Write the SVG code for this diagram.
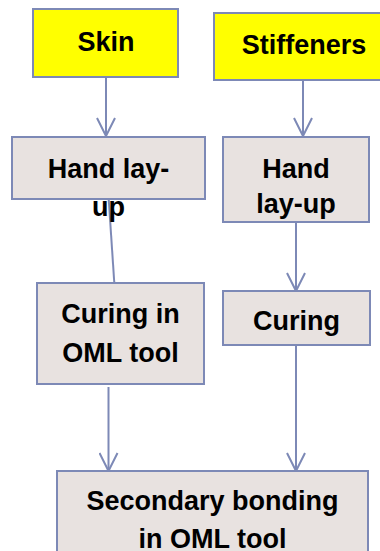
<svg xmlns="http://www.w3.org/2000/svg" width="380" height="551" viewBox="0 0 380 551">
  <style>
    .box { stroke: #7d89b6; stroke-width: 2; }
    .in { fill: #ffff00; }
    .step { fill: #e8e2e0; }
    .lbl { font-family: "Liberation Sans", Arial, sans-serif; font-weight: bold; font-size: 27px; fill: #000; text-anchor: middle; }
    .wire { stroke: #7d89b6; stroke-width: 2; fill: none; }
  </style>
  <defs>
    <marker id="vee" viewBox="0 0 20 20" refX="19" refY="10" markerWidth="20" markerHeight="20" markerUnits="userSpaceOnUse" orient="auto">
      <path d="M1 1 L19 10 L1 19" fill="none" stroke="#7d89b6" stroke-width="2"/>
    </marker>
  </defs>

  <rect width="380" height="551" fill="#ffffff"/>

  <!-- connectors -->
  <g id="connectors">
    <line class="wire" x1="106" y1="77" x2="106" y2="136" marker-end="url(#vee)"/>
    <line class="wire" x1="303" y1="80" x2="303" y2="136" marker-end="url(#vee)"/>
    <line class="wire" x1="108.7" y1="199" x2="114.3" y2="283"/>
    <line class="wire" x1="296" y1="222" x2="296" y2="291" marker-end="url(#vee)"/>
    <line class="wire" x1="108.5" y1="387" x2="108.5" y2="471" marker-end="url(#vee)"/>
    <line class="wire" x1="296" y1="345" x2="296" y2="471" marker-end="url(#vee)"/>
  </g>

  <g id="skin">
    <rect class="box in" x="33" y="9" width="145" height="68"/>
    <text class="lbl" x="106" y="51">Skin</text>
  </g>

  <g id="stiffeners">
    <rect class="box in" x="214" y="13" width="180" height="67"/>
    <text class="lbl" x="304" y="54">Stiffeners</text>
  </g>

  <g id="skin-layup">
    <rect class="box step" x="12" y="137" width="193" height="62"/>
    <text class="lbl" x="108.5" y="178">Hand lay-</text>
    <text class="lbl" x="108.5" y="216">up</text>
  </g>

  <g id="stiffener-layup">
    <rect class="box step" x="223" y="137" width="146" height="85"/>
    <text class="lbl" x="296" y="178">Hand</text>
    <text class="lbl" x="296" y="213">lay-up</text>
  </g>

  <g id="skin-cure">
    <rect class="box step" x="37" y="283" width="167" height="101"/>
    <text class="lbl" x="120.5" y="323">Curing in</text>
    <text class="lbl" x="120.5" y="362">OML tool</text>
  </g>

  <g id="stiffener-cure">
    <rect class="box step" x="223" y="291" width="147" height="54"/>
    <text class="lbl" x="296.5" y="330">Curing</text>
  </g>

  <g id="bonding">
    <rect class="box step" x="57" y="471" width="311" height="100"/>
    <text class="lbl" x="212.5" y="510">Secondary bonding</text>
    <text class="lbl" x="212.5" y="548">in OML tool</text>
  </g>
</svg>
